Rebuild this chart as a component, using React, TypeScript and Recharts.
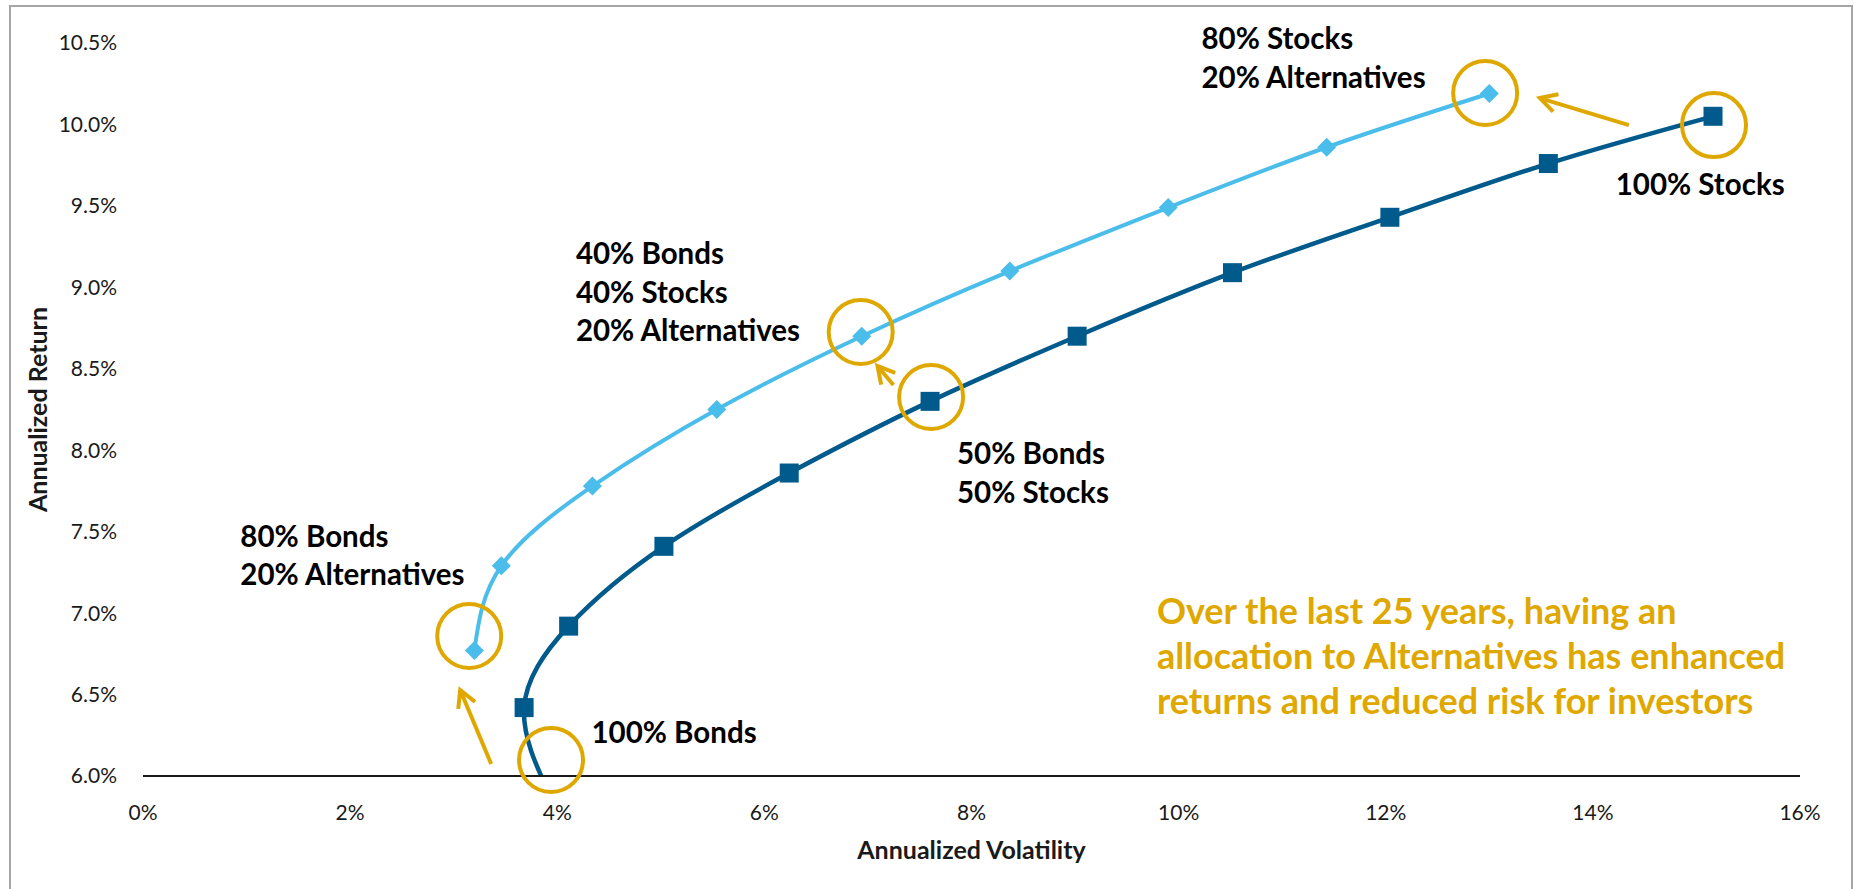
import React from "react";
import { LineChart, Line, XAxis, YAxis, ReferenceDot, ReferenceLine, Label } from "recharts";

// Bonds / Stocks mixes, 100% bonds -> 100% stocks
const bondStockVol = [3.93, 3.68, 4.11, 5.03, 6.24, 7.6, 9.02, 10.52, 12.04, 13.57, 15.16];
const bondStockRet = [5.88, 6.42, 6.92, 7.41, 7.86, 8.3, 8.7, 9.09, 9.43, 9.76, 10.05];

// Bonds / Stocks + 20% Alternatives, 80% bonds -> 80% stocks
const altMixVol = [3.2, 3.46, 4.34, 5.54, 6.94, 8.37, 9.9, 11.43, 13.0];
const altMixRet = [6.77, 7.29, 7.78, 8.25, 8.7, 9.1, 9.49, 9.86, 10.19];

const volTicks = [0, 2, 4, 6, 8, 10, 12, 14, 16];
const retTicks = [6, 6.5, 7, 7.5, 8, 8.5, 9, 9.5, 10, 10.5];

// callout text, anchored at chart values (left edge, first baseline)
const callouts = [
  { x: 10.22, y: 10.463, lines: ["80% Stocks", "20% Alternatives"] },
  { x: 4.18, y: 9.143, lines: ["40% Bonds", "40% Stocks", "20% Alternatives"] },
  { x: 7.86, y: 7.915, lines: ["50% Bonds", "50% Stocks"] },
  { x: 0.94, y: 7.406, lines: ["80% Bonds", "20% Alternatives"] },
  { x: 4.33, y: 6.203, lines: ["100% Bonds"] },
  { x: 14.22, y: 9.567, lines: ["100% Stocks"] },
];

const note = {
  x: 9.79,
  y: 6.933,
  lines: [
    "Over the last 25 years, having an",
    "allocation to Alternatives has enhanced",
    "returns and reduced risk for investors",
  ],
};

const rings = [
  { x: 12.96, y: 10.193 },
  { x: 15.17, y: 9.996 },
  { x: 6.93, y: 8.726 },
  { x: 7.61, y: 8.327 },
  { x: 3.15, y: 6.859 },
  { x: 3.94, y: 6.098 },
];

const arrows = [
  { from: { x: 3.362, y: 6.074 }, to: { x: 3.063, y: 6.528 } },
  { from: { x: 7.246, y: 8.4 }, to: { x: 7.092, y: 8.517 } },
  { from: { x: 14.348, y: 9.996 }, to: { x: 13.488, y: 10.162 } },
];

const DARK = "#005A8C";
const LIGHT = "#4BBDEA";
const GOLD = "#DFA800";
const FONT = "Lato, 'Open Sans', sans-serif";

const bondStockData = bondStockVol.map((vol, i) => ({ vol, ret: bondStockRet[i] }));
const altMixData = altMixVol.map((vol, i) => ({ vol, ret: altMixRet[i] }));

const SquareDot = (props: any) => {
  const { cx, cy, payload, index } = props;
  if (payload.ret < 6) return <g key={`sq-${index}`} />;
  return <rect key={`sq-${index}`} x={cx - 9.5} y={cy - 9.5} width={19} height={19} fill={DARK} />;
};

const DiamondDot = (props: any) => {
  const { cx, cy, index } = props;
  const d = 9.5;
  return (
    <polygon
      key={`dm-${index}`}
      points={`${cx},${cy - d} ${cx + d},${cy} ${cx},${cy + d} ${cx - d},${cy}`}
      fill={LIGHT}
    />
  );
};

const Arrow = (props: any) => {
  const { x1, y1, x2, y2 } = props;
  const ang = Math.atan2(y2 - y1, x2 - x1);
  const h = 19;
  const s = 0.5;
  const ax = x2 - h * Math.cos(ang - s);
  const ay = y2 - h * Math.sin(ang - s);
  const bx = x2 - h * Math.cos(ang + s);
  const by = y2 - h * Math.sin(ang + s);
  return (
    <g>
      <line x1={x1} y1={y1} x2={x2} y2={y2} stroke={GOLD} strokeWidth={4} />
      <polyline points={`${ax},${ay} ${x2},${y2} ${bx},${by}`} fill="none" stroke={GOLD} strokeWidth={4} />
    </g>
  );
};

const textBlock = (lines: string[], size: number, lh: number, fill: string) => (p: any) => (
  <text x={p.cx} y={p.cy} fontFamily={FONT} fontWeight={700} fontSize={size} fill={fill}>
    {lines.map((l, i) => (
      <tspan key={i} x={p.cx} dy={i === 0 ? 0 : lh}>
        {l}
      </tspan>
    ))}
  </text>
);

export default function App() {
  return (
    <div
      style={{
        position: "absolute",
        left: 0,
        top: 0,
        width: 1854,
        height: 889,
        overflow: "hidden",
        background: "#fff",
      }}
    >
      <div
        style={{
          position: "absolute",
          left: 9,
          top: 5,
          width: 1840,
          height: 920,
          border: "2px solid #A6A6A6",
        }}
      />
      <div style={{ position: "absolute", left: 0, top: 0 }}>
        <LineChart width={1854} height={889} margin={{ top: 43, right: 54, bottom: 0, left: 0 }}>
          <XAxis
            type="number"
            dataKey="vol"
            domain={[0, 16]}
            ticks={volTicks}
            interval={0}
            tickFormatter={(v) => `${v}%`}
            axisLine={{ stroke: "#1a1a1a", strokeWidth: 2 }}
            tickLine={false}
            tickSize={0}
            tickMargin={29}
            height={113}
            tick={{ fill: "#1a1a1a", fontSize: 21, fontFamily: FONT }}
          >
            <Label
              content={({ viewBox }: any) => (
                <text
                  x={viewBox.x + viewBox.width / 2}
                  y={viewBox.y + 83}
                  textAnchor="middle"
                  fontFamily={FONT}
                  fontWeight={700}
                  fontSize={25}
                  fill="#1a1a1a"
                >
                  Annualized Volatility
                </text>
              )}
            />
          </XAxis>
          <YAxis
            type="number"
            dataKey="ret"
            domain={[6, 10.5]}
            allowDataOverflow
            ticks={retTicks}
            interval={0}
            tickFormatter={(v) => `${v.toFixed(1)}%`}
            axisLine={false}
            tickLine={false}
            tickSize={0}
            tickMargin={26}
            width={143}
            tick={{ fill: "#1a1a1a", fontSize: 21, fontFamily: FONT }}
          >
            <Label
              content={({ viewBox }: any) => {
                const cx = 37;
                const cy = viewBox.y + viewBox.height / 2;
                return (
                  <text
                    x={cx}
                    y={cy}
                    transform={`rotate(-90, ${cx}, ${cy})`}
                    textAnchor="middle"
                    dominantBaseline="central"
                    fontFamily={FONT}
                    fontWeight={700}
                    fontSize={25}
                    fill="#1a1a1a"
                  >
                    Annualized Return
                  </text>
                );
              }}
            />
          </YAxis>
          <Line
            data={bondStockData}
            dataKey="ret"
            type="natural"
            stroke={DARK}
            strokeWidth={4.5}
            dot={SquareDot}
            activeDot={false}
            isAnimationActive={false}
          />
          <Line
            data={altMixData}
            dataKey="ret"
            type="natural"
            stroke={LIGHT}
            strokeWidth={4}
            dot={DiamondDot}
            activeDot={false}
            isAnimationActive={false}
          />
          {rings.map((r, i) => (
            <ReferenceDot
              key={`ring-${i}`}
              x={r.x}
              y={r.y}
              r={32}
              shape={(p: any) => (
                <ellipse cx={p.cx} cy={p.cy} rx={32} ry={32} fill="none" stroke={GOLD} strokeWidth={4} />
              )}
            />
          ))}
          {arrows.map((a, i) => (
            <ReferenceLine key={`arrow-${i}`} segment={[a.from, a.to]} ifOverflow="visible" shape={Arrow} />
          ))}
          {callouts.map((c, i) => (
            <ReferenceDot key={`txt-${i}`} x={c.x} y={c.y} r={0} shape={textBlock(c.lines, 29.5, 38.5, "#000")} />
          ))}
          <ReferenceDot x={note.x} y={note.y} r={0} shape={textBlock(note.lines, 36, 45, GOLD)} />
        </LineChart>
      </div>
    </div>
  );
}
